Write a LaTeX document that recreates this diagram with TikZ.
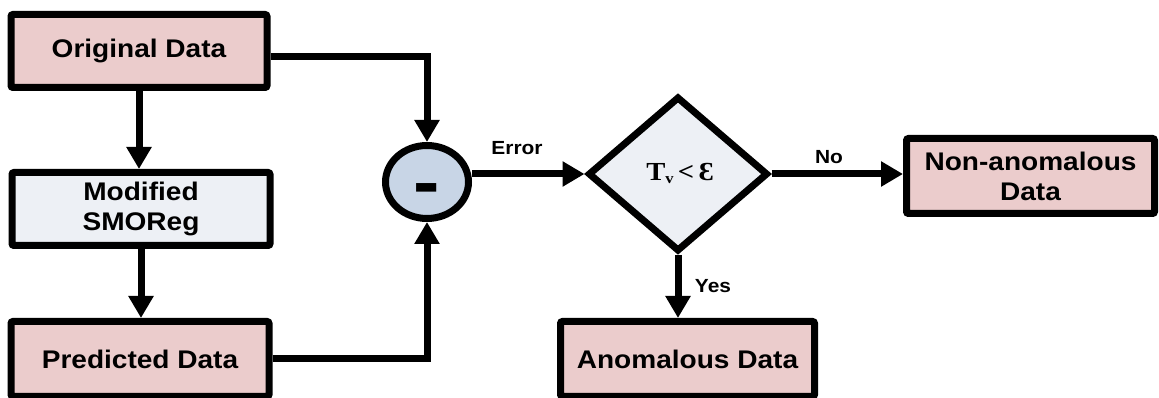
\documentclass[tikz,border=0pt]{standalone}
\usepackage{fontspec}
\usetikzlibrary{arrows.meta,shapes.geometric}
\newfontfamily\labfont[FakeStretch=1.1]{Liberation Sans}
\newfontfamily\condfont[FakeStretch=1.1]{Liberation Serif}

\definecolor{boxpink}{RGB}{235,204,204}
\definecolor{boxpale}{RGB}{237,240,245}
\definecolor{opblue}{RGB}{200,213,230}

\begin{document}
\begin{tikzpicture}[x=1pt,y=1pt,
  every node/.style={inner sep=0pt, align=center},
  blk/.style={draw=black, line width=7pt, rounded corners=2pt,
    font={\labfont\bfseries\fontsize{25.5}{30}\selectfont}},
  datbox/.style={blk, fill=boxpink},
  procbox/.style={blk, fill=boxpale},
  lbl/.style={font={\labfont\bfseries\fontsize{19}{22}\selectfont}},
  conn/.style={line width=7pt, line join=miter},
  arr/.style={conn, -{Triangle[length=22pt,width=24pt]}}
]
\useasboundingbox (0,0) rectangle (1159,398);

% left column: data and model
\node[datbox, minimum width=256pt, minimum height=73pt] (orig) at (139,347) {Original Data};
\node[procbox, minimum width=258pt, minimum height=73pt] (mod) at (141,189) {Modified\\SMOReg};
\node[datbox, minimum width=258pt, minimum height=75pt] (pred) at (140,39) {Predicted Data};

% subtraction
\node[ellipse, draw=black, line width=7pt, fill=opblue,
      minimum width=83pt, minimum height=73pt] (ell) at (427,216) {};
\node[font={\labfont\bfseries\fontsize{72}{72}\selectfont}] (minus) at (427,203) {-};

% threshold test
\node[diamond, draw=black, line width=7pt, fill=boxpale,
      minimum width=180pt, minimum height=155pt] (dia) at (678,224) {};
\node[font={\condfont\bfseries\fontsize{26}{28}\selectfont}] (cond) at (680,225)
      {T\raisebox{-3pt}{\fontsize{15}{15}\selectfont v}\,<\,Ɛ};

% outcomes
\node[datbox, minimum width=248pt, minimum height=75pt] (non) at (1030.5,222) {Non-anomalous\\Data};
\node[datbox, minimum width=254pt, minimum height=75pt] (anom) at (687.5,39) {Anomalous Data};

% connectors
\draw[arr] (orig.south) -- (orig.south |- mod.north);
\draw[arr] (mod.south) -- (mod.south |- pred.north);
\draw[arr] ([yshift=-6pt]orig.east) -| (ell.north);
\draw[arr] (pred.east) -| (ell.south);
\draw[arr] (dia.west -| ell.east) -- (dia.west);
\draw[arr] (dia.east) -- (dia.east -| non.west);
\draw[arr] (dia.south) -- (dia.south |- anom.north);

% connector labels
\node[lbl] (err) at (517,250) {Error};
\node[lbl] (no) at (829,241) {No};
\node[lbl] (yes) at (713,112) {Yes};
\end{tikzpicture}
\end{document}
